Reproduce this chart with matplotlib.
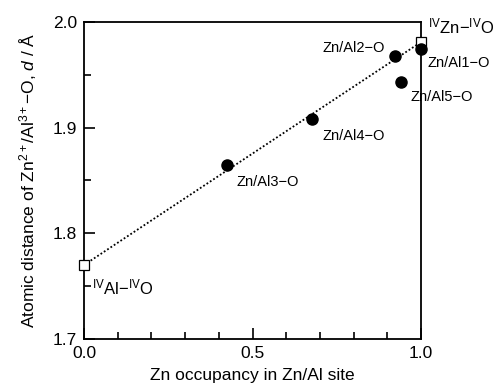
import matplotlib
matplotlib.use("Agg")
import matplotlib.pyplot as plt
from matplotlib.ticker import MultipleLocator

plt.rcParams["font.family"] = ["Liberation Sans", "DejaVu Sans"]
plt.rcParams["mathtext.fontset"] = "custom"
plt.rcParams["mathtext.rm"] = "Liberation Sans"
plt.rcParams["mathtext.it"] = "Liberation Sans:italic"
plt.rcParams["mathtext.default"] = "regular"

# Zn occupancy vs mean Zn/Al-O distance for each site
site_labels = ["Zn/Al1\u2212O", "Zn/Al2\u2212O", "Zn/Al3\u2212O", "Zn/Al4\u2212O", "Zn/Al5\u2212O"]
occupancy = [1.0, 0.923, 0.423, 0.676, 0.940]
distance = [1.974, 1.968, 1.865, 1.908, 1.9435]

# end members (tetrahedral Al-O and Zn-O)
end_labels = ["$^{IV}$Al\u2212$^{IV}$O", "$^{IV}$Zn\u2212$^{IV}$O"]
end_occ = [0.0, 1.0]
end_dist = [1.770, 1.981]

fig = plt.figure(figsize=(4.93, 3.90), dpi=100)
ax = fig.add_axes([0.1704, 0.1308, 0.6836, 0.8128])

ax.plot(end_occ, end_dist, ls=(0, (1, 1.2)), color="black", lw=1.3, zorder=1)
ax.plot(end_occ, end_dist, ls="none", marker="s", ms=7.5, mfc="white",
        mec="black", mew=0.9, clip_on=False, zorder=3)
ax.plot(occupancy, distance, ls="none", marker="o", ms=8, color="black",
        clip_on=False, zorder=4)

# label offsets in pixels from each point
offsets = {
    "Zn/Al1\u2212O": (6, -14, "left"),
    "Zn/Al2\u2212O": (-10, 8, "right"),
    "Zn/Al3\u2212O": (10, -17, "left"),
    "Zn/Al4\u2212O": (11, -17, "left"),
    "Zn/Al5\u2212O": (10, -15, "left"),
}
for lab, x, y in zip(site_labels, occupancy, distance):
    dx, dy, ha = offsets[lab]
    ax.annotate(lab, (x, y), xytext=(dx, dy), textcoords="offset pixels",
                ha=ha, va="center", fontsize=10.5, annotation_clip=False)

ax.annotate(end_labels[0], (end_occ[0], end_dist[0]), xytext=(8, -22),
            textcoords="offset pixels", ha="left", va="center", fontsize=12)
ax.annotate(end_labels[1], (end_occ[1], end_dist[1]), xytext=(7, 16),
            textcoords="offset pixels", ha="left", va="center", fontsize=12,
            annotation_clip=False)

ax.set_xlim(0, 1)
ax.set_ylim(1.7, 2.0)
ax.xaxis.set_major_locator(MultipleLocator(0.5))
ax.xaxis.set_minor_locator(MultipleLocator(0.1))
ax.yaxis.set_major_locator(MultipleLocator(0.1))
ax.yaxis.set_minor_locator(MultipleLocator(0.05))
ax.tick_params(which="both", direction="in", top=False, right=False,
               labelsize=12.5, width=1.2)
ax.tick_params(which="major", length=8, pad=5)
ax.tick_params(which="minor", length=5)
ax.xaxis.set_major_formatter(lambda v, p: f"{v:.1f}")
ax.yaxis.set_major_formatter(lambda v, p: f"{v:.1f}")
for s in ax.spines.values():
    s.set_linewidth(1.3)

ax.set_xlabel("Zn occupancy in Zn/Al site", fontsize=12.5, labelpad=5)
ax.set_ylabel("Atomic distance of Zn$^{2+}$/Al$^{3+}$\u2212O, $\\it{d}$ / Å",
              fontsize=12.5, labelpad=10)

fig.savefig("out.png", dpi=100)
